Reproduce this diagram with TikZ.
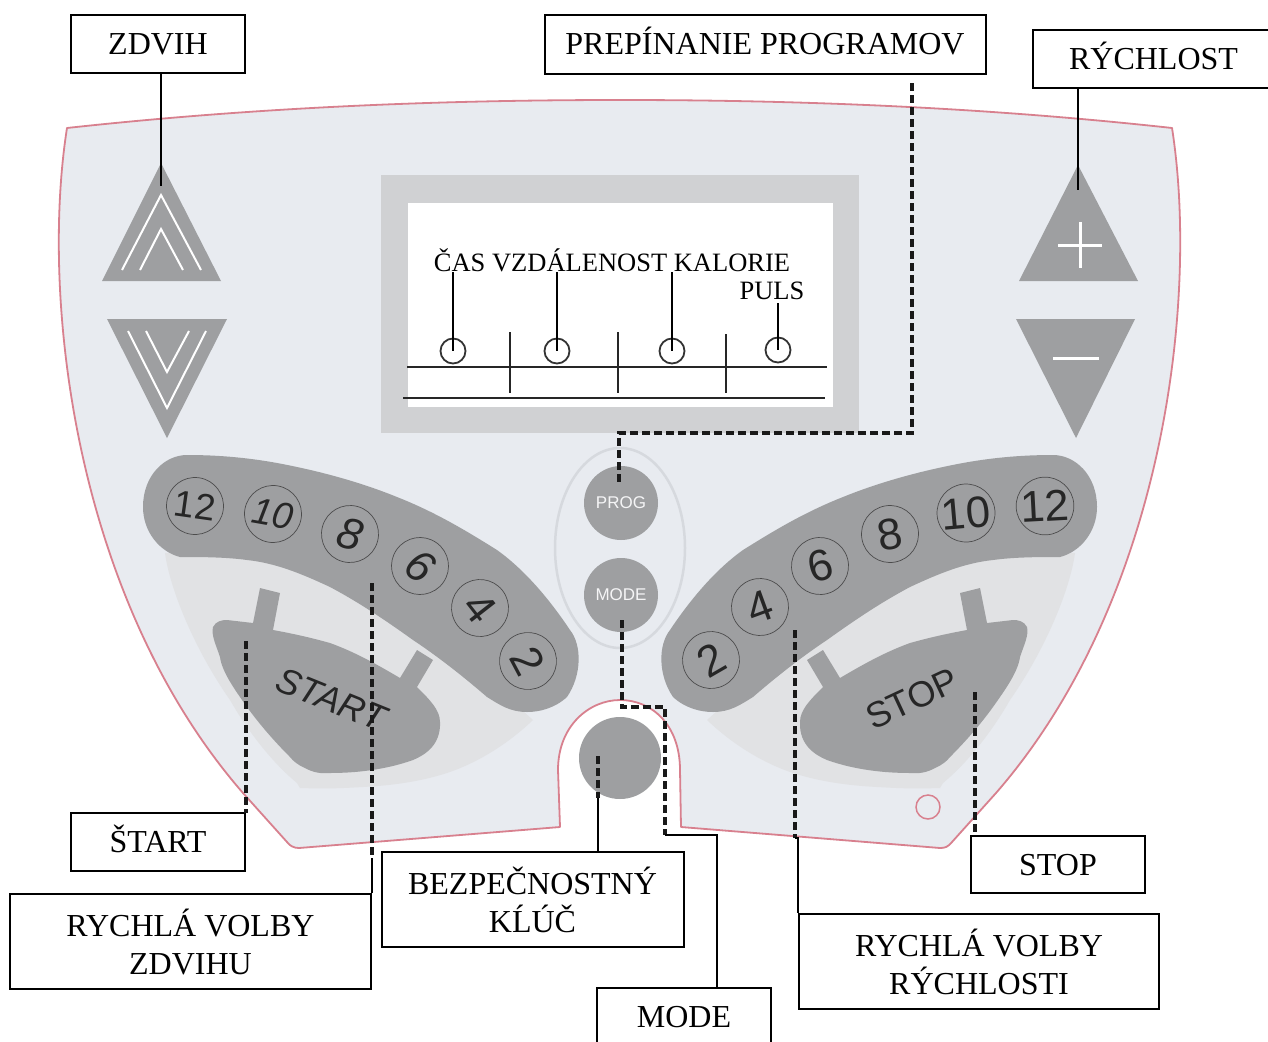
\documentclass[tikz,border=0pt]{standalone}
\usepackage{fontspec}
\setmainfont{Liberation Serif}
\setsansfont{Liberation Sans}
\definecolor{panel}{HTML}{E8EBF0}
\definecolor{rimc}{HTML}{D8808E}
\definecolor{btn}{HTML}{9E9FA1}
\definecolor{lightzone}{HTML}{E1E2E4}
\definecolor{bezel}{HTML}{D0D1D3}
\definecolor{ovalc}{HTML}{D6D9DE}
\newcommand{\bandpath}{(143,507) .. controls (143,475) and (165,455) .. (187,455) .. controls (230,455) and (265,460) .. (297,467) .. controls (330,474) and (365,484) .. (397,497) .. controls (435,512) and (465,530) .. (497,550) .. controls (525,570) and (550,600) .. (570,630) .. controls (582,645) and (582,675) .. (567,697) .. controls (555,708) and (540,712) .. (527,712) .. controls (510,712) and (500,705) .. (487,697) .. controls (465,678) and (440,658) .. (413,640) .. controls (385,620) and (360,603) .. (330,587) .. controls (300,573) and (275,563) .. (247,560) .. controls (225,557) and (200,557) .. (180,557) .. controls (160,552) and (143,532) .. (143,507) -- cycle}
\newcommand{\zonepath}{(165,553) .. controls (170,590) and (195,650) .. (230,700) .. controls (250,735) and (275,765) .. (297,783) -- (300,788) .. controls (330,789) and (345,788) .. (363,787) .. controls (400,785) and (425,780) .. (447,773) .. controls (480,762) and (510,742) .. (533,720) -- (400,600) -- (250,550) -- cycle}
\newcommand{\shoepath}{(213,627) .. controls (216,621) and (222,620) .. (227,620) -- (253,623) -- (260,588) -- (280,593) -- (273,630) .. controls (295,634) and (312,638) .. (330,643) .. controls (355,652) and (378,665) .. (400,678) -- (417,650) -- (433,660) -- (417,687) .. controls (430,700) and (440,710) .. (440,722) .. controls (441,745) and (425,755) .. (413,760) .. controls (385,770) and (355,773) .. (330,773) .. controls (320,774) and (312,772) .. (305,768) .. controls (298,765) and (293,761) .. (290,757) .. controls (275,742) and (260,725) .. (247,707) .. controls (235,690) and (222,672) .. (220,657) .. controls (216,645) and (211,635) .. (213,627) -- cycle}
\tikzset{
  x=1pt,y=-1pt,
  labelbox/.style={draw=black,line width=2pt,fill=white,inner sep=0pt,align=center,font=\fontsize{32}{38}\selectfont},
  oneline/.style={text height=21pt,text depth=0pt},
  lcd/.style={inner sep=0pt,font=\fontsize{26.5}{30}\selectfont},
  lead/.style={draw=black,line width=1.8pt},
  dashlead/.style={draw=black!90,line width=3.2pt,dash pattern=on 8pt off 4pt},
  lcdline/.style={draw=black!85,line width=1.4pt},
  lcdring/.style={circle,draw=black!80,line width=1.8pt,minimum size=25pt,inner sep=0pt},
  ringc/.style={circle,draw=black!70,line width=0.7pt,minimum size=57pt,inner sep=0pt,text=black!85,font=\sffamily\fontsize{44}{44}\selectfont},
  smalld/.style={font=\sffamily\fontsize{37}{37}\selectfont},
  chev/.style={draw=white,line width=2pt},
  roundbtn/.style={circle,fill=btn,inner sep=0pt,text=white!90!btn,font=\sffamily\fontsize{17}{17}\selectfont}
}
\begin{document}
\begin{tikzpicture}
\clip (0,0) rectangle (1268,1041);
\fill[white] (0,0) rectangle (1268,1041);
% panel
\draw[rimc,line width=1.8pt,fill=panel,line join=round] (67,128) .. controls (250,108) and (430,100) .. (620,100) .. controls (810,100) and (990,108) .. (1172,128)
  .. controls (1199,300) and (1164,600) .. (996,793) -- (952,842) .. controls (948,847) and (945,848) .. (940,848)
  -- (681,827) -- (680,770) .. controls (680,725) and (652,700) .. (620,700) .. controls (590,700) and (558,725) .. (558,770) -- (560,827)
  -- (299,848) .. controls (294,848) and (290,846) .. (287,842) -- (243,793) .. controls (75,600) and (40,300) .. (67,128) -- cycle;
% triangle buttons
\fill[btn] (161,163) -- (221,281) -- (102,281) -- cycle;
\draw[chev] (122,270) -- (161,195) -- (201,270);
\draw[chev] (140,270) -- (161,229) -- (183,270);
\fill[btn] (107,319) -- (227,319) -- (167,438) -- cycle;
\draw[chev] (128,331) -- (167,408) -- (206,331);
\draw[chev] (146,331) -- (167,372) -- (189,331);
\fill[btn] (1078,165) -- (1138,281) -- (1019,281) -- cycle;
\draw[white,line width=3pt] (1058,245) -- (1102,245) (1080,222) -- (1080,268);
\fill[btn] (1016,319) -- (1135,319) -- (1076,438) -- cycle;
\draw[white,line width=3pt] (1053,358) -- (1099,358);
% display
\fill[bezel] (381,175) rectangle (859,433);
\fill[white] (408,203) rectangle (833,407);
\draw[lcdline] (407,367) -- (827,367);
\draw[lcdline] (403,398) -- (825,398);
\draw[lcdline] (510,332) -- (510,393);
\draw[lcdline] (618,332) -- (618,393);
\draw[lcdline] (726,334) -- (726,393);
\node[lcd] (lcdtop) at (612,260) {ČAS VZDÁLENOST KALORIE};
\node[lcd] (lcdpuls) at (772,291) {PULS};
\node[lcdring] (c1) at (453,351) {};
\node[lcdring] (c2) at (557,351) {};
\node[lcdring] (c3) at (672,351) {};
\node[lcdring] (c4) at (778,350) {};
\coordinate (t1) at (453,272); \coordinate (t2) at (557,272); \coordinate (t3) at (672,272); \coordinate (t4) at (778,303);
\draw[black,line width=1.4pt] (t1) -- (c1.center);
\draw[black,line width=1.4pt] (t2) -- (c2.center);
\draw[black,line width=1.4pt] (t3) -- (c3.center);
\draw[black,line width=1.4pt] (t4) -- (c4.center);
% left group
\fill[lightzone] \zonepath;
\fill[btn] \shoepath;
\fill[btn] \bandpath;
% right group (mirror)
\begin{scope}[shift={(1240,0)},xscale=-1]
\fill[lightzone] \zonepath;
\fill[btn] \shoepath;
\fill[btn] \bandpath;
\end{scope}
\node[ringc,smalld,rotate=-8] (l12) at (195,506) {12};
\node[ringc,smalld,rotate=-10] (l10) at (273,514) {\textit{10}};
\node[ringc,rotate=-15] (l8) at (350,534) {\textit{8}};
\node[ringc,rotate=-35] (l6) at (420,566) {\textit{6}};
\node[ringc,rotate=-52] (l4) at (480,608) {4};
\node[ringc,rotate=-62] (l2) at (528,661) {2};
\node[ringc,rotate=30] (r2) at (711,660) {2};
\node[ringc,rotate=20] (r4) at (760,607) {4};
\node[ringc,rotate=15] (r6) at (820,566) {6};
\node[ringc,rotate=10] (r8) at (890,534) {8};
\node[ringc,rotate=5] (r10) at (966,513) {10};
\node[ringc,rotate=3] (r12) at (1045,506) {12};
\node[inner sep=0pt,rotate=-22,text=black!85,font=\sffamily\itshape\fontsize{36}{36}\selectfont] (starttxt) at (331,699) {START};
\node[inner sep=0pt,rotate=25,text=black!85,font=\sffamily\fontsize{36}{36}\selectfont] (stoptxt) at (912,699) {STOP};
% centre controls
\draw[ovalc,line width=2.5pt] (620,548) ellipse [x radius=65,y radius=100];
\node[roundbtn,minimum size=74pt] (prog) at (621,503) {PROG};
\node[roundbtn,minimum size=74pt] (mode) at (621,595) {MODE};
\node[circle,fill=btn,minimum size=82pt,inner sep=0pt] (key) at (620,758) {};
\node[circle,draw=rimc,line width=1.5pt,minimum size=24pt,inner sep=0pt] (dot) at (928,807) {};
% label boxes
\node[labelbox,oneline,minimum width=174pt,minimum height=58pt] (bzdvih) at (158,44) {ZDVIH};
\node[labelbox,oneline,minimum width=441pt,minimum height=59pt] (bprog) at (765,44.5) {PREPÍNANIE PROGRAMOV};
\node[labelbox,oneline,minimum width=241pt,minimum height=58pt] (brych) at (1153.5,59) {RÝCHLOST};
\node[labelbox,oneline,minimum width=174pt,minimum height=58pt] (bstart) at (158,842) {ŠTART};
\node[labelbox,minimum width=361pt,minimum height=95pt] (bvz) at (190.5,941.5) {RYCHLÁ VOLBY\\ZDVIHU};
\node[labelbox,minimum width=302pt,minimum height=95pt] (bkey) at (532.5,899.5) {BEZPEČNOSTNÝ\\KĹÚČ};
\node[labelbox,oneline,minimum width=174pt,minimum height=58pt] (bmode) at (684,1017) {MODE};
\node[labelbox,oneline,minimum width=174pt,minimum height=57pt] (bstop) at (1058,864.5) {STOP};
\node[labelbox,minimum width=360pt,minimum height=95pt] (bvr) at (979,961.5) {RYCHLÁ VOLBY\\RÝCHLOSTI};
% connectors
\coordinate (azd) at (161,186);
\coordinate (ary) at (1078,190);
\draw[lead] (bzdvih.south -| azd) -- (azd);
\draw[lead] (brych.south -| ary) -- (ary);
\coordinate (pr0) at (912,83); \coordinate (pr1) at (912,433); \coordinate (pr2) at (619,433); \coordinate (pr3) at (619,485);
\draw[dashlead] (pr0) -- (pr1) -- (pr2) -- (pr3);
\coordinate (st0) at (246,641);
\draw[dashlead] (st0) -- (246,813);
\coordinate (vz0) at (372,583); \coordinate (vz1) at (372,858);
\draw[dashlead] (vz0) -- (vz1);
\draw[lead] (vz1) -- (bvz.north east);
\coordinate (k0) at (598,756); \coordinate (k1) at (598,798);
\draw[dashlead] (k0) -- (k1);
\draw[lead] (k1) -- (k1 |- bkey.north);
\coordinate (m0) at (622,620); \coordinate (m1) at (622,707); \coordinate (m2) at (665,707); \coordinate (m3) at (665,835); \coordinate (m4) at (717,835);
\draw[dashlead] (m0) -- (m1) -- (m2) -- (m3);
\draw[lead] (m3) -- (m4) -- (m4 |- bmode.north);
\coordinate (r0) at (795,630); \coordinate (r1) at (795,838);
\draw[dashlead] (r0) -- (r1);
\draw[lead] (r1) -- (bvr.north west |- r1) -- (bvr.north west);
\coordinate (s0) at (975,692);
\draw[dashlead] (s0) -- (s0 |- bstop.north);
\end{tikzpicture}
\end{document}
